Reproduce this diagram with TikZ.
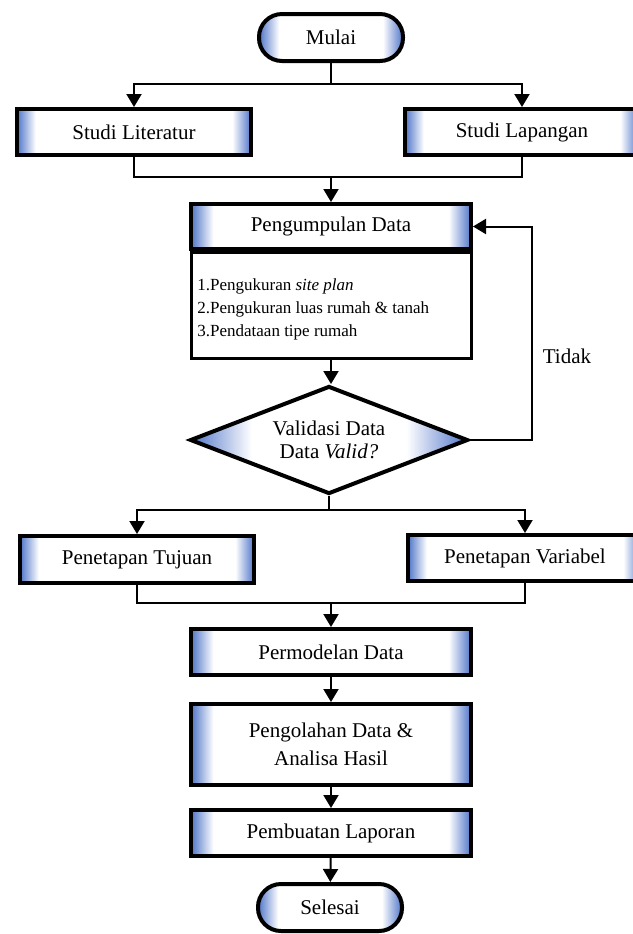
\documentclass[tikz,border=0pt]{standalone}
\usepackage{fontspec}
\setmainfont{Liberation Serif}
\usepackage{tikz}
\usetikzlibrary{shapes.geometric, arrows.meta, positioning, calc}
\usepackage{xcolor}
\definecolor{edgeblue}{RGB}{78, 116, 200}
% blue only along the left and right rims
\pgfdeclarehorizontalshading{rimbox}{100bp}{color(0bp)=(edgeblue); color(25bp)=(edgeblue); color(29bp)=(white); color(71bp)=(white); color(75bp)=(edgeblue); color(100bp)=(edgeblue)}
\pgfdeclarehorizontalshading{rimend}{100bp}{color(0bp)=(edgeblue); color(25bp)=(edgeblue); color(32bp)=(white); color(68bp)=(white); color(75bp)=(edgeblue); color(100bp)=(edgeblue)}
\pgfdeclarehorizontalshading{rimdiamond}{100bp}{color(0bp)=(edgeblue); color(25bp)=(edgeblue); color(36bp)=(white); color(64bp)=(white); color(75bp)=(edgeblue); color(100bp)=(edgeblue)}
\tikzset{
    terminal/.style={rectangle, rounded corners=11.5pt, minimum width=72pt, minimum height=23.5pt, inner sep=0pt, align=center, draw=black, line width=2pt, shading=rimend, font=\fontsize{10.5}{13}\selectfont},
    process/.style={rectangle, minimum width=140pt, minimum height=23pt, inner sep=0pt, align=center, draw=black, line width=2pt, shading=rimbox, font=\fontsize{10.5}{14}\selectfont},
    sideprocess/.style={process, minimum width=117pt},
    listbox/.style={rectangle, minimum width=140pt, minimum height=53pt, inner sep=0pt, draw=black, line width=1.5pt, fill=white},
    decision/.style={diamond, aspect=2.57, minimum width=139pt, minimum height=54pt, inner sep=0pt, align=center, draw=black, line width=2pt, shading=rimdiamond, font=\fontsize{10.5}{11.5}\selectfont},
    arrow/.style={line width=1pt, -{Triangle[width=7.5pt, length=6.5pt]}},
    link/.style={line width=1pt}
}
\begin{document}
\begin{tikzpicture}[x=0.5pt, y=-0.5pt]
    \useasboundingbox (0,0) rectangle (633,934);
    \node[terminal] (mulai) at (331, 37.5) {Mulai};
    \node[sideprocess] (lit) at (134, 132) {Studi Literatur};
    \node[sideprocess] (lap) at (522, 132) {Studi Lapangan};
    \node[process, minimum height=22.5pt] (kumpul) at (331, 226.5) {Pengumpulan Data};
    \node[listbox] (rinci) at (331, 305.5) {};
    \node[anchor=west, align=left, inner sep=0pt, font=\fontsize{8.5}{11.5}\selectfont] (rincitext) at (197, 309) {1.Pengukuran \textit{site plan}\\2.Pengukuran luas rumah \& tanah\\3.Pendataan tipe rumah};
    \node[decision] (valid) at (329, 440) {Validasi Data\\Data \textit{Valid?}};
    \node[font=\fontsize{10.5}{13}\selectfont, inner sep=0pt] (tidak) at (567, 356) {Tidak};
    \node[sideprocess, minimum height=23.5pt] (tujuan) at (137, 559.5) {Penetapan Tujuan};
    \node[sideprocess] (variabel) at (525, 558) {Penetapan Variabel};
    \node[process] (model) at (331, 652) {Permodelan Data};
    \node[process, minimum height=40.5pt] (olah) at (331, 744.5) {Pengolahan Data \&\\Analisa Hasil};
    \node[process] (lapor) at (331, 833) {Pembuatan Laporan};
    \node[terminal] (selesai) at (330, 907.5) {Selesai};

    % junctions
    \coordinate (split1) at (331, 84);
    \coordinate (merge1) at (331, 177);
    \coordinate (back) at (532, 330);
    \coordinate (split2) at (331, 510);
    \coordinate (merge2) at (331, 603);

    \draw[link] (mulai) -- (split1);
    \draw[arrow] (split1) -| (lit);
    \draw[arrow] (split1) -| (lap);
    \draw[link] (lit) |- (merge1);
    \draw[link] (lap) |- (merge1);
    \draw[arrow] (merge1) -- (kumpul);
    \draw[arrow] (rinci.south) -- (rinci.south |- valid.north);
    \draw[arrow] (valid.east) -| (back) |- (kumpul.east);
    \draw[link] (valid.south) -- (valid.south |- split2) -- (split2);
    \draw[arrow] (split2) -| (tujuan);
    \draw[arrow] (split2) -| (variabel);
    \draw[link] (tujuan) |- (merge2);
    \draw[link] (variabel) |- (merge2);
    \draw[arrow] (merge2) -- (model);
    \draw[arrow] (model) -- (olah);
    \draw[arrow] (olah) -- (lapor);
    \draw[arrow] (lapor) -- (selesai);
\end{tikzpicture}
\end{document}
